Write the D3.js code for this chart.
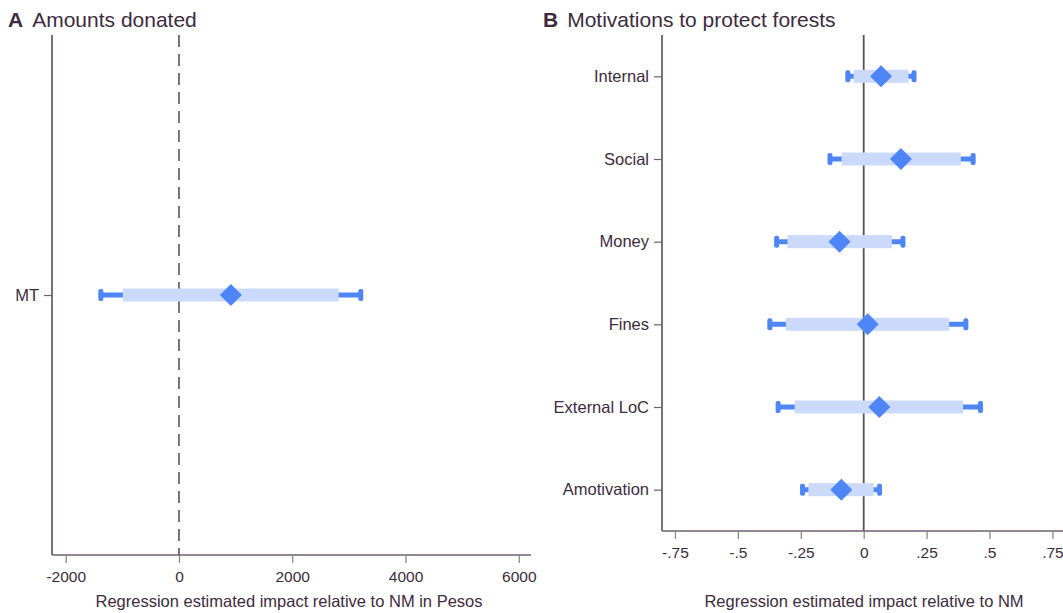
<!DOCTYPE html>
<html>
<head>
<meta charset="utf-8">
<script src="https://cdn.jsdelivr.net/npm/d3@7"></script>
<style>
  body { margin: 0; background: #fff; }
  svg { font-family: "Liberation Sans", Arial, sans-serif; }
  .tick text { fill: #3d2b40; }
</style>
</head>
<body>
<svg id="chart" width="1063" height="613"></svg>
<script>
// panel A: amounts donated (pesos)
var donCats = ['MT']
var donEst = [917]
var donLo95 = [-1380]
var donHi95 = [3210]
var donLo90 = [-990]
var donHi90 = [2820]
var donTicks = [-2000, 0, 2000, 4000, 6000]

// panel B: motivations
var motCats = ['Internal', 'Social', 'Money', 'Fines', 'External LoC', 'Amotivation']
var motEst = [0.069, 0.148, -0.096, 0.016, 0.062, -0.089]
var motLo95 = [-0.063, -0.134, -0.346, -0.373, -0.34, -0.243]
var motHi95 = [0.2, 0.435, 0.156, 0.406, 0.464, 0.063]
var motLo90 = [-0.04, -0.088, -0.303, -0.309, -0.274, -0.22]
var motHi90 = [0.178, 0.386, 0.112, 0.34, 0.395, 0.04]
var motTicks = [-0.75, -0.5, -0.25, 0, 0.25, 0.5, 0.75]

var TEXT = '#3d2b40'
var AXIS = '#6f5f72'
var BLUE = '#4f86f7'
var LIGHT = '#cbd9fb'

var svg = d3.select('#chart')

function drawPanel(opt) {
  var g = svg.append('g')
  var x = d3.scaleLinear().domain(opt.xDomain).range(opt.xRange)
  var y = d3.scalePoint().domain(opt.cats).range([opt.top, opt.bottom]).padding(0.5)

  var rows = opt.cats.map((c, i) => ({
    cat: c, est: opt.est[i], lo95: opt.lo95[i], hi95: opt.hi95[i], lo90: opt.lo90[i], hi90: opt.hi90[i]
  }))

  // reference line at zero
  g.append('line')
    .attr('x1', x(0)).attr('x2', x(0))
    .attr('y1', opt.top).attr('y2', opt.bottom)
    .attr('stroke', '#555')
    .attr('stroke-width', opt.dashed ? 1.6 : 1.8)
    .attr('stroke-dasharray', opt.dashed ? '12,7' : null)

  // x axis
  var xa = g.append('g')
    .attr('transform', `translate(0,${opt.bottom})`)
    .call(d3.axisBottom(x).tickValues(opt.ticks).tickSize(8).tickPadding(8).tickFormat(opt.fmt))
  xa.select('.domain').attr('stroke', AXIS).attr('stroke-width', 1.6)
  xa.selectAll('.tick line').attr('stroke', '#8a7d8d').attr('stroke-width', 1.2)
  xa.selectAll('.tick text').style('font-size', '15.5px')

  // y axis
  var ya = g.append('g')
    .attr('transform', `translate(${opt.xRange[0]},0)`)
    .call(d3.axisLeft(y).tickSize(8).tickPadding(5))
  ya.select('.domain').attr('stroke', AXIS).attr('stroke-width', 1.8)
  ya.selectAll('.tick line').attr('stroke', AXIS).attr('stroke-width', 1.2)
  ya.selectAll('.tick text').style('font-size', '16.5px')
  // domain path has outer ticks; redraw as plain line
  ya.select('.domain').attr('d', `M0,${opt.top}V${opt.bottom}`)
  xa.select('.domain').attr('d', `M${opt.xRange[0]},0H${opt.xRange[1]}`)

  var r = g.selectAll('.row').data(rows).enter().append('g')
    .attr('transform', d => `translate(0,${y(d.cat)})`)

  // outer interval
  r.append('line')
    .attr('x1', d => x(d.lo95)).attr('x2', d => x(d.hi95))
    .attr('stroke', BLUE).attr('stroke-width', 5)
  r.selectAll('.cap').data(d => [d.lo95, d.hi95]).enter().append('rect')
    .attr('x', v => x(v) - 2.5).attr('y', -6).attr('width', 5).attr('height', 12)
    .attr('rx', 2).attr('fill', BLUE)
  // inner interval
  r.append('rect')
    .attr('x', d => x(d.lo90)).attr('width', d => x(d.hi90) - x(d.lo90))
    .attr('y', -6.5).attr('height', 13)
    .attr('fill', LIGHT)
  // estimate
  r.append('path')
    .attr('transform', d => `translate(${x(d.est)},0)`)
    .attr('d', 'M0,-11L11,0L0,11L-11,0Z')
    .attr('fill', BLUE)

  // title
  var t = g.append('text').attr('x', opt.titleX).attr('y', 27)
    .attr('fill', TEXT).style('font-size', '21px')
  t.append('tspan').attr('font-weight', 'bold').text(opt.letter)
  t.append('tspan').attr('dx', 9).text(opt.title)

  // x axis title
  g.append('text')
    .attr('x', opt.axisTitleX).attr('y', opt.axisTitleY)
    .attr('text-anchor', 'middle').attr('fill', TEXT)
    .style('font-size', '16.5px')
    .text(opt.xTitle)
}

var hyphen = s => s.replace('\u2212', '-')

drawPanel({
  cats: donCats, est: donEst, lo95: donLo95, hi95: donHi95, lo90: donLo90, hi90: donHi90,
  xDomain: [-2242, 6216], xRange: [52, 531], top: 35, bottom: 555,
  ticks: donTicks, fmt: v => hyphen(d3.format('d')(v)), dashed: true,
  letter: 'A', title: 'Amounts donated', titleX: 8,
  xTitle: 'Regression estimated impact relative to NM in Pesos', axisTitleX: 289, axisTitleY: 607
})

drawPanel({
  cats: motCats, est: motEst, lo95: motLo95, hi95: motHi95, lo90: motLo90, hi90: motHi90,
  xDomain: [-0.8015, 0.8], xRange: [662, 1065], top: 35, bottom: 531,
  ticks: motTicks, fmt: v => v === 0 ? '0' : hyphen(d3.format('.2~f')(v)).replace('0.', '.'), dashed: false,
  letter: 'B', title: 'Motivations to protect forests', titleX: 543,
  xTitle: 'Regression estimated impact relative to NM', axisTitleX: 864, axisTitleY: 607
})
</script>
</body>
</html>
